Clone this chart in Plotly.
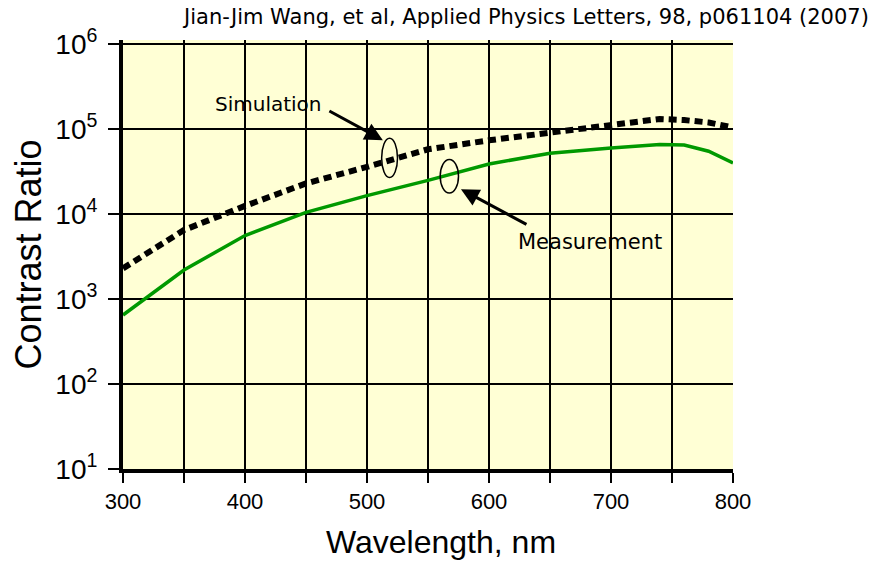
import plotly.graph_objects as go

wl_sim = [300, 350, 400, 450, 500, 520, 550, 600, 650, 700, 740, 760, 780, 800]
cr_sim = [2300, 6500, 12500, 23000, 36000, 44000, 58000, 74000, 92000, 115000, 132000, 128000, 120000, 105000]

wl_meas = [300, 350, 400, 450, 500, 550, 600, 650, 700, 740, 760, 780, 800]
cr_meas = [650, 2200, 5600, 10500, 16500, 25000, 39000, 52000, 60000, 66000, 65000, 55000, 40000]

x_ticks = [300, 350, 400, 450, 500, 550, 600, 650, 700, 750, 800]
x_labels = ["300", "", "400", "", "500", "", "600", "", "700", "", "800"]
y_ticks = [10, 100, 1000, 10000, 100000, 1000000]
y_labels = ["10<sup>1</sup>", "10<sup>2</sup>", "10<sup>3</sup>", "10<sup>4</sup>", "10<sup>5</sup>", "10<sup>6</sup>"]

FONT = "Liberation Sans, Arial, sans-serif"
FONT2 = "DejaVu Sans, sans-serif"

fig = go.Figure()
fig.add_trace(go.Scatter(x=wl_sim, y=cr_sim, mode="lines", name="Simulation",
                         line=dict(color="black", width=6, dash="8px,5px")))
fig.add_trace(go.Scatter(x=wl_meas, y=cr_meas, mode="lines", name="Measurement",
                         line=dict(color="#009900", width=3.5)))

# ellipses around curves
fig.add_shape(type="circle", xref="x", yref="y", x0=512, x1=525, y0=27000, y1=78000,
              line=dict(color="black", width=1.5))
fig.add_shape(type="circle", xref="x", yref="y", x0=560, x1=575, y0=17700, y1=44000,
              line=dict(color="black", width=1.5))

fig.add_annotation(x=513, y=4.871, xref="x", yref="y", text="", showarrow=True,
                   ax=-55, ay=-30, arrowhead=2, arrowsize=1.2, arrowwidth=3, arrowcolor="black")
fig.add_annotation(x=577, y=4.294, xref="x", yref="y", text="", showarrow=True,
                   ax=67, ay=36, arrowhead=2, arrowsize=1.2, arrowwidth=3, arrowcolor="black")
fig.add_annotation(x=419, y=5.294, xref="x", yref="y", text="Simulation", showarrow=False,
                   font=dict(family=FONT2, size=20, color="black"))
fig.add_annotation(x=683, y=3.67, xref="x", yref="y", text="Measurement", showarrow=False,
                   font=dict(family=FONT2, size=21, color="black"))

fig.add_annotation(x=1.0, y=1.0, xref="paper", yref="paper", xanchor="right", yanchor="middle",
                   text="Jian-Jim Wang, et al, Applied Physics Letters, 98, p061104 (2007)",
                   showarrow=False, yshift=23, xshift=138,
                   font=dict(family=FONT2, size=21, color="black"))

fig.add_annotation(x=0.521, y=0, xref="paper", yref="paper", xanchor="center", yanchor="middle",
                   text="Wavelength, nm", showarrow=False, yshift=-73,
                   font=dict(family=FONT, size=32, color="black"))

fig.update_layout(
    width=894, height=562,
    margin=dict(l=115, r=169, t=32, b=101),
    paper_bgcolor="white", plot_bgcolor="#FFFFD5",
    showlegend=False,
    font=dict(family=FONT, color="black"),
)
fig.update_xaxes(range=[300, 800], tickvals=x_ticks, ticktext=x_labels, automargin=False,
                 showgrid=True, gridcolor="black", gridwidth=2,
                 showline=True, linecolor="black", linewidth=4, mirror=False,
                 ticks="outside", ticklen=10, tickwidth=2, tickcolor="black",
                 tickfont=dict(size=22), zeroline=False)
fig.update_yaxes(type="log", range=[1, 6.05], tickvals=y_ticks, ticktext=y_labels, automargin=False,
                 showgrid=True, gridcolor="black", gridwidth=2,
                 showline=True, linecolor="black", linewidth=4,
                 ticks="outside", ticklen=11, tickwidth=2, tickcolor="black",
                 tickfont=dict(size=28), ticklabelstandoff=5, zeroline=False,
                 title=dict(text="Contrast Ratio", font=dict(size=36), standoff=20))

fig.write_html("out.html")
